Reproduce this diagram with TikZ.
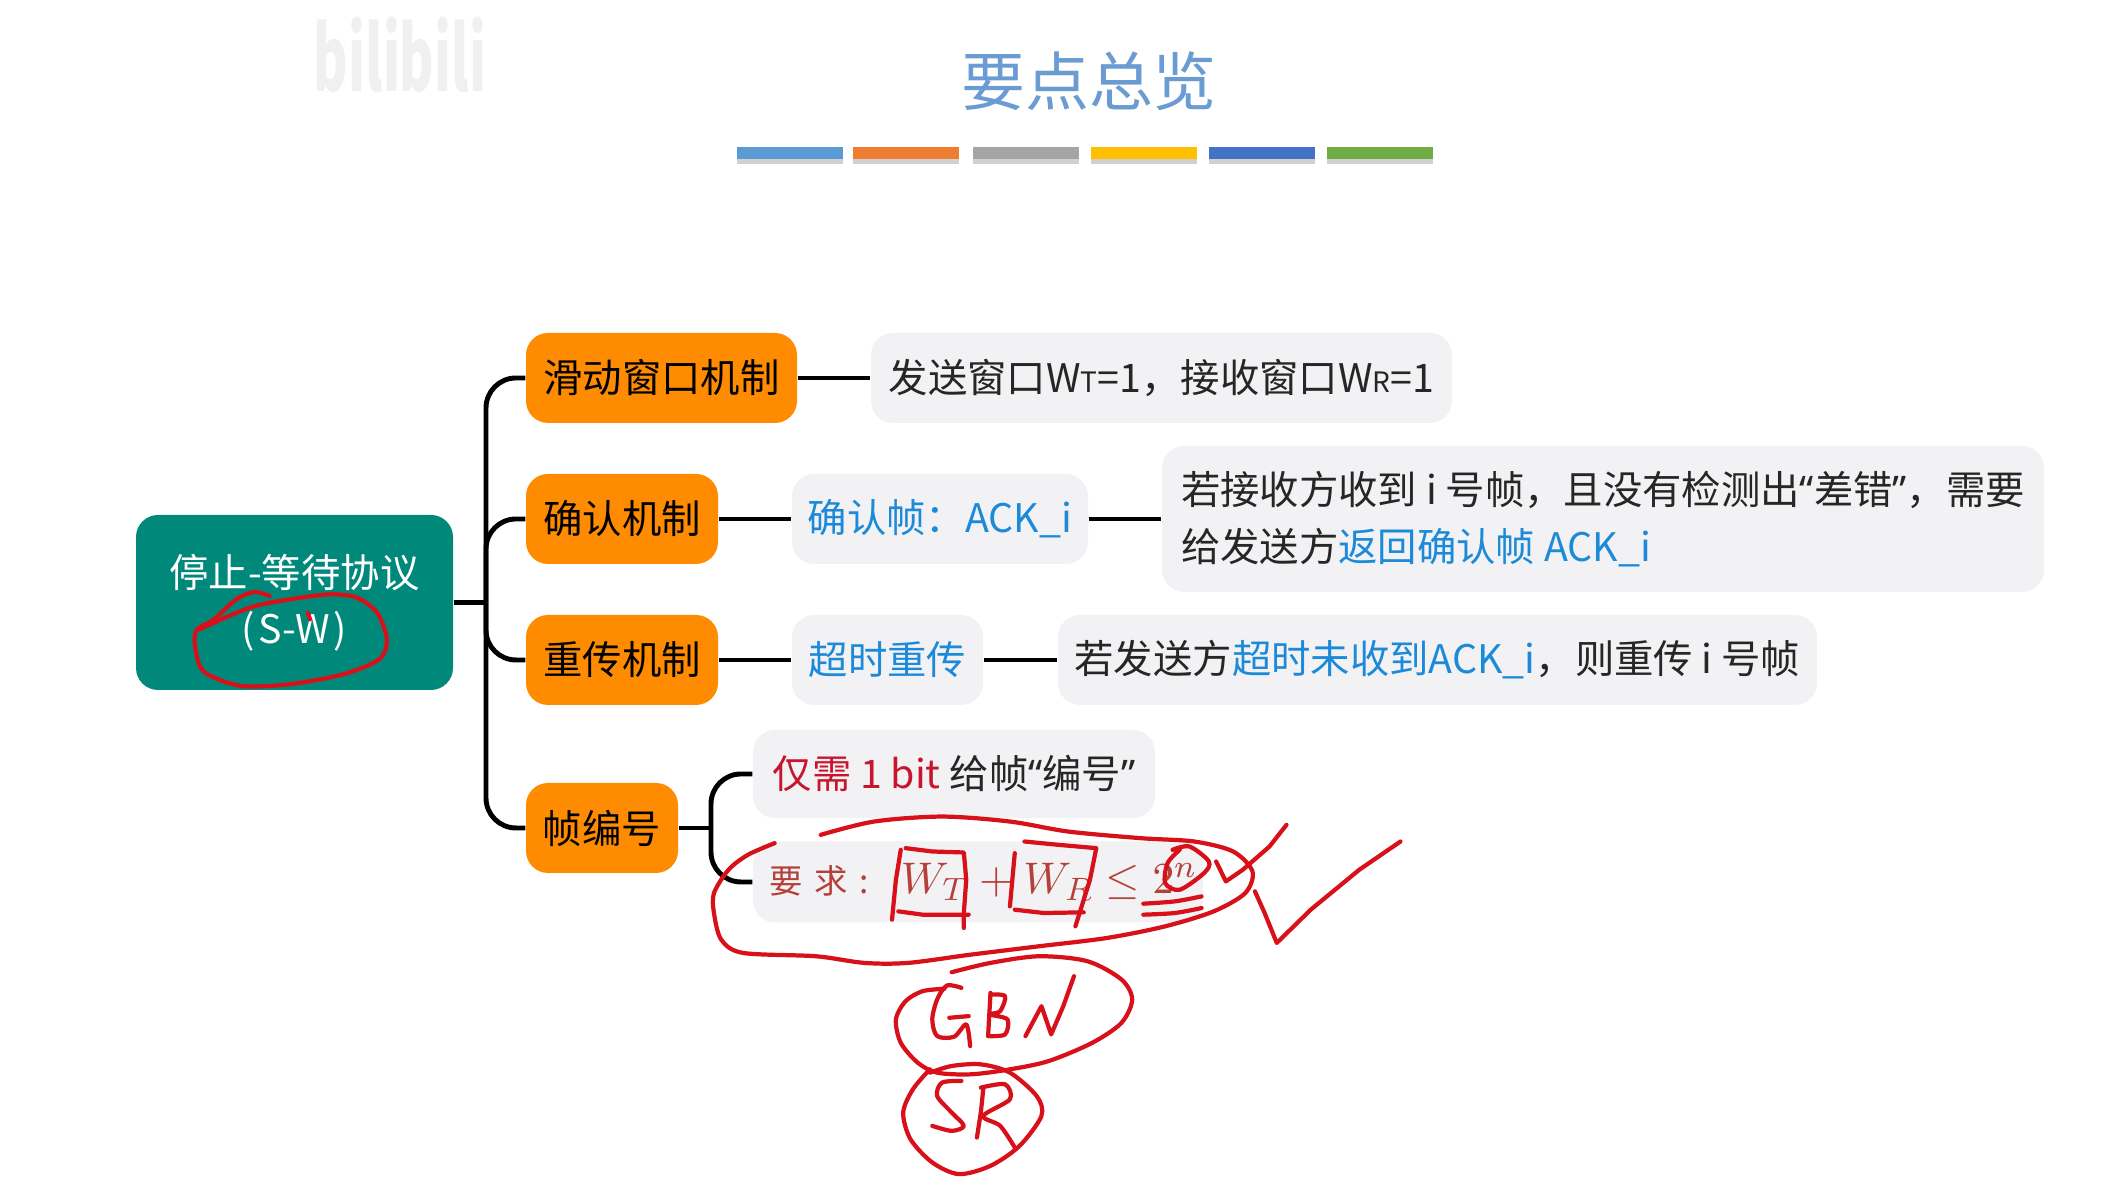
\documentclass[tikz,border=0pt]{standalone}
\usepackage[no-math]{fontspec}
\setmainfont{Noto Sans CJK SC}
\newfontfamily\quotefont{Noto Sans}
\usepackage{xcolor}
\usetikzlibrary{positioning, calc}

\definecolor{rootgreen}{HTML}{00897B}
\definecolor{boxorange}{HTML}{FF8C00}
\definecolor{notegray}{HTML}{F2F2F4}
\definecolor{linkblue}{HTML}{1C8AD8}
\definecolor{notered}{HTML}{C8142C}
\definecolor{fadered}{HTML}{B5403A}
\definecolor{titleblue}{HTML}{6A9BD2}
\definecolor{inkred}{HTML}{D8101A}

\newcommand{\quoted}[1]{{\quotefont “}#1{\quotefont ”}}

\begin{document}
\begin{tikzpicture}[
  block/.style={rectangle, rounded corners=0.22cm, minimum height=0.9cm, inner sep=0pt,
    align=center, font=\fontsize{11.2}{16}\selectfont},
  topic/.style={block, fill=boxorange, text=black},
  note/.style={block, fill=notegray, align=left, text=black!85},
  branch/.style={line width=1.4pt, rounded corners=0.3cm},
  ink/.style={inkred, line width=1.2pt, line cap=round, line join=round},
  bar/.style={minimum width=1.06cm, minimum height=0.12cm, inner sep=0pt},
]
\useasboundingbox (0,0) rectangle (21.26,12.02);

% heading
\node[text=gray!12, font=\fontsize{15}{18}\selectfont\bfseries, yscale=1.7, transform shape] (mark) at (4.0,11.47) {bilibili};
\node[text=titleblue, font=\fontsize{18.2}{20}\selectfont] (title) at (10.89,11.21) {要点总览};
\foreach \name/\col/\xpos in {b1/5B9BD5/7.90, b2/ED7D31/9.055, b3/A5A5A5/10.255, b4/FFC000/11.435, b5/4472C4/12.615, b6/70AD47/13.80} {
  \definecolor{barcol}{HTML}{\col}
  \fill[black!18] (\xpos-0.53,10.38) rectangle (\xpos+0.53,10.50);
  \node[bar, fill=barcol] (\name) at (\xpos,10.49) {};
}

% tree
\node[block, fill=rootgreen, text=white, minimum width=3.17cm, minimum height=1.75cm] (root) at (2.945,5.995) {停止-等待协议\\(\hspace{1pt}S-W\hspace{1pt})};

\node[topic, minimum width=2.71cm] (slide) at (6.615,8.24) {滑动窗口机制};
\node[topic, minimum width=1.92cm] (confirm) at (6.22,6.83) {确认机制};
\node[topic, minimum width=1.92cm] (resend) at (6.22,5.42) {重传机制};
\node[topic, minimum width=1.52cm] (seqno) at (6.02,3.74) {帧编号};

\node[note, minimum width=5.81cm] (window) at (11.615,8.24) {发送窗口W{\fontsize{8}{10}\selectfont T}=1，接收窗口W{\fontsize{8}{10}\selectfont R}=1};
\node[note, minimum width=2.96cm] (ackframe) at (9.40,6.83) {\textcolor{linkblue}{确认帧：ACK\_i}};
\node[note, minimum width=8.82cm, minimum height=1.46cm] (ackdetail) at (16.03,6.83) {若接收方收到 i 号帧，且没有检测出\quoted{差错}，需要\\给发送方\textcolor{linkblue}{返回确认帧 ACK\_i}};
\node[note, minimum width=1.91cm] (timeout) at (8.875,5.42) {\textcolor{linkblue}{超时重传}};
\node[note, minimum width=7.59cm] (timeoutdetail) at (14.375,5.42) {若发送方\textcolor{linkblue}{超时未收到ACK\_i}，则重传 i 号帧};
\node[note, minimum width=4.02cm, minimum height=0.88cm] (onebit) at (9.54,4.28) {\textcolor{notered}{仅需 1 bit} 给帧\quoted{编号}};
\node[note, minimum width=4.50cm, minimum height=0.81cm, text=fadered] (rule) at (9.78,3.20) {\hspace*{3pt}{\fontsize{9.5}{12}\selectfont 要\hspace{3.4pt}求\hspace{3.4pt}:}\hspace{9pt}\scalebox{1.15}{$W_T+W_R\leq 2^n$}};

\coordinate (trunk) at (4.86,5.995);
\coordinate (fork) at (7.11,3.74);

\draw[branch] (root) -- (trunk);
\draw[branch] (trunk) |- (slide);
\draw[branch] (trunk) |- (confirm);
\draw[branch] (trunk) |- (resend);
\draw[branch] (trunk) |- (seqno);
\draw[branch] (slide) -- (window);
\draw[branch] (confirm) -- (ackframe);
\draw[branch] (ackframe) -- (ackdetail);
\draw[branch] (resend) -- (timeout);
\draw[branch] (timeout) -- (timeoutdetail);
\draw[branch] (seqno) -- (fork);
\draw[branch] (fork) |- (onebit);
\draw[branch] (fork) |- (rule);

% pen marks round the name
\begin{scope}[shift={(1.20,8.82)}, x=0.004464cm, y=-0.003333cm]
\draw[ink] plot[smooth] coordinates {(335,830) (300,818) (260,840) (210,900) (170,935) (170,1000) (190,1060) (270,1100) (380,1095) (500,1065) (580,1020) (597,960) (575,880) (530,835) (470,825) (380,840) (290,865) (170,935)};
\draw[ink] (420,880) -- (425,900);
\end{scope}

% pen marks round the rule
\begin{scope}[shift={(6.80,4.22)}, x=0.004847cm, y=-0.003333cm]
\draw[ink] plot[smooth] coordinates {(290,165) (400,125) (540,110) (680,125) (800,155) (950,175) (1060,185) (1140,215) (1180,275) (1165,340) (1100,395) (1000,440) (880,475) (740,500) (600,525) (470,550) (380,550) (280,530) (130,520) (85,480) (70,400) (70,340) (100,270) (140,225) (195,190)};
\draw[ink] (455,210) -- (445,300) -- (437,420);
\draw[ink] (465,205) -- (520,215) -- (585,218) -- (590,300) -- (585,400) -- (585,445);
\draw[ink] (450,395) -- (500,405) -- (595,405);
\draw[ink] (690,220) -- (685,300) -- (680,380);
\draw[ink] (710,185) -- (780,195) -- (858,205) -- (845,300) -- (815,440);
\draw[ink] (690,390) -- (750,400) -- (832,398);
\draw[ink] plot[smooth] coordinates {(1030,210) (1005,250) (1000,310) (1030,330) (1080,280) (1090,245) (1050,200) (1015,210)};
\draw[ink] plot[smooth] coordinates {(955,372) (1020,365) (1075,350)};
\draw[ink] plot[smooth] coordinates {(955,405) (1020,400) (1075,385)};
\draw[ink] (1105,245) -- (1125,305) -- (1160,270) -- (1215,200) -- (1250,135);
\draw[ink] (1185,335) -- (1205,400) -- (1230,490) -- (1300,390) -- (1400,270) -- (1485,185);
% GBN
\draw[ink] plot[smooth] coordinates {(560,578) (640,550) (740,530) (840,545) (910,600) (932,660) (910,730) (850,790) (760,845) (680,870) (600,885) (530,880) (490,850) (455,790) (445,720) (465,665) (500,635) (545,628)};
\draw[ink] plot[smooth] coordinates {(580,625) (550,618) (530,660) (520,720) (530,770) (565,772) (590,735) (598,800)};
\draw[ink] (555,715) -- (595,710);
\draw[ink] (640,640) -- (635,770);
\draw[ink] plot[smooth] coordinates {(640,645) (670,650) (660,695) (640,705) (675,720) (670,765) (635,770)};
\draw[ink] (712,770) -- (745,680) -- (765,765) -- (790,680) -- (812,590);
% SR
\draw[ink] plot[smooth] coordinates {(515,870) (480,930) (460,1000) (475,1080) (520,1150) (575,1185) (640,1160) (700,1100) (745,1010) (735,950) (680,880) (620,855) (560,860) (515,880)};
\draw[ink] plot[smooth] coordinates {(580,905) (540,910) (530,950) (560,1000) (585,1040) (560,1055) (520,1040)};
\draw[ink] (625,930) -- (620,1000) -- (612,1075);
\draw[ink] plot[smooth] coordinates {(620,925) (670,915) (680,960) (625,1010) (660,1040) (690,1105)};
\end{scope}

\end{tikzpicture}
\end{document}
